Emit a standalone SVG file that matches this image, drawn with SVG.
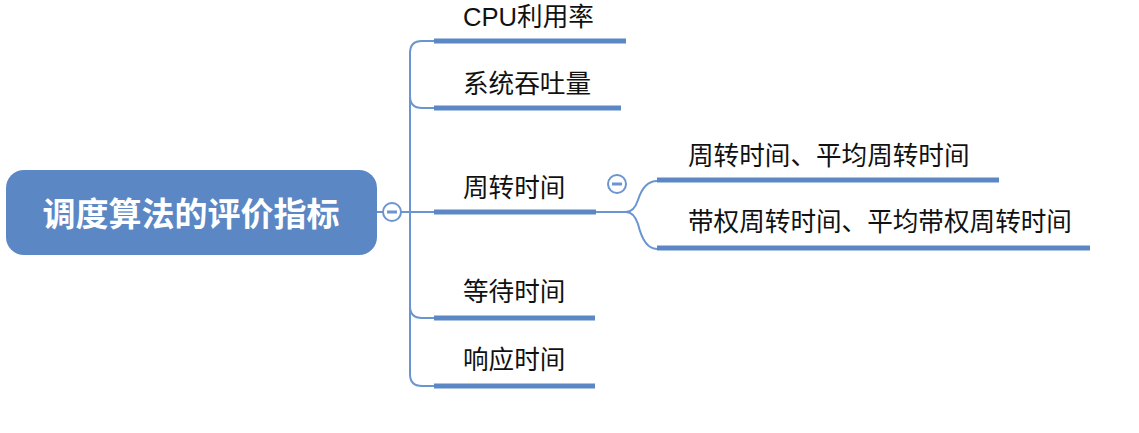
<svg xmlns="http://www.w3.org/2000/svg" width="1139" height="433" viewBox="0 0 1139 433">
<style>
.t{font-family:"Liberation Sans","Noto Sans CJK SC",sans-serif;font-size:25.6px;fill:#111}
.u{stroke:#5b87c5;stroke-width:5;fill:none}
.c{stroke:#6a95d0;stroke-width:2;fill:none}
.k{fill:#fff;stroke:#6a95d0;stroke-width:2}
.m{stroke:#6a95d0;stroke-width:3}
</style>
<rect width="1139" height="433" fill="#fff"/>
<g id="connectors">
<path class="c" d="M377 212 H434"/>
<path class="c" d="M434 41 H422 Q410 41 410 53 V374 Q410 386 422 386 H434"/>
<path class="c" d="M410 96 Q410 108 422 108 H434"/>
<path class="c" d="M410 306 Q410 318 422 318 H434"/>
<path class="c" d="M596 212 H626 Q634 212 638 200 Q644 181 657 181"/>
<path class="c" d="M626 212 Q634 212 638 224 Q644 249 657 249"/>
</g>
<g id="root">
<rect x="6" y="170" width="371" height="85" rx="18" fill="#5b87c5"/>
<text x="191" y="226" text-anchor="middle" style="font-family:'Liberation Sans','Noto Sans CJK SC',sans-serif;font-size:33px;font-weight:bold;fill:#fff">调度算法的评价指标</text>
<circle class="k" cx="392" cy="212" r="9"/>
<line class="m" x1="387" y1="212" x2="397" y2="212"/>
</g>
<g id="cpu">
<text class="t" x="463" y="26">CPU利用率</text>
<line class="u" x1="434" y1="41" x2="626" y2="41"/>
</g>
<g id="throughput">
<text class="t" x="463" y="93">系统吞吐量</text>
<line class="u" x1="434" y1="108" x2="621" y2="108"/>
</g>
<g id="turnaround">
<text class="t" x="463" y="197">周转时间</text>
<line class="u" x1="434" y1="212" x2="596" y2="212"/>
<circle class="k" cx="617" cy="184" r="9"/>
<line class="m" x1="612" y1="184" x2="622" y2="184"/>
</g>
<g id="wait">
<text class="t" x="463" y="301">等待时间</text>
<line class="u" x1="434" y1="318" x2="595" y2="318"/>
</g>
<g id="response">
<text class="t" x="463" y="369">响应时间</text>
<line class="u" x1="434" y1="386" x2="595" y2="386"/>
</g>
<g id="avg-turnaround">
<text class="t" x="688" y="165">周转时间、平均周转时间</text>
<line class="u" x1="657" y1="180" x2="999" y2="180"/>
</g>
<g id="weighted-turnaround">
<text class="t" x="688" y="231">带权周转时间、平均带权周转时间</text>
<line class="u" x1="657" y1="248" x2="1090" y2="248"/>
</g>
</svg>
